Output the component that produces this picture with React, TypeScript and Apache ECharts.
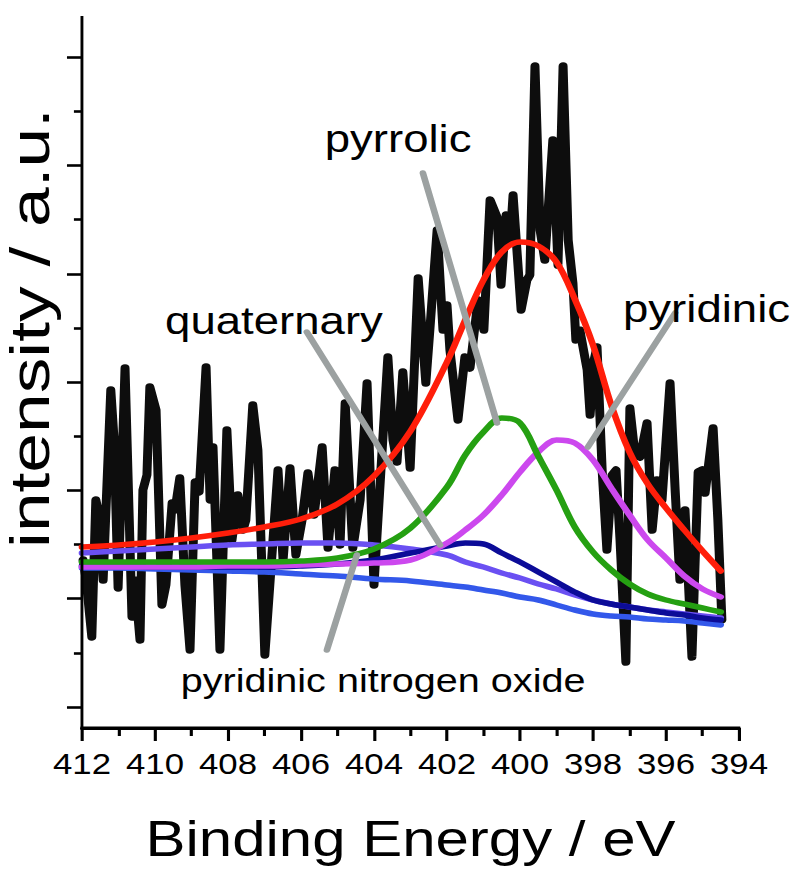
import React, { useEffect, useRef } from "react";
import * as echarts from "echarts";

// ---- data ----
const X_MIN = 394;
const X_MAX = 412;
const X_STEP = 2;

// measured spectrum (binding energy in eV, intensity in a.u.)
const blackEnergy = [
  411.97, 411.89, 411.73, 411.62, 411.53, 411.42, 411.21, 411.12, 411.01, 410.82,
  410.63, 410.55, 410.41, 410.33, 410.22, 410.14, 409.97, 409.81, 409.7, 409.53,
  409.45, 409.32, 409.18, 409.04, 408.9, 408.79, 408.6, 408.49, 408.41, 408.22,
  408.03, 407.89, 407.73, 407.59, 407.51, 407.32, 407.18, 406.99, 406.63, 406.49,
  406.3, 406.14, 405.97, 405.81, 405.64, 405.42, 405.26, 405.07, 404.93, 404.79,
  404.58, 404.38, 404.19, 404.0, 403.81, 403.62, 403.48, 403.37, 403.21, 403.01,
  402.79, 402.58, 402.47, 402.27, 402.11, 402.0, 401.92, 401.7, 401.51, 401.37,
  401.15, 400.99, 400.82, 400.63, 400.52, 400.38, 400.27, 400.19, 399.97, 399.81,
  399.73, 399.59, 399.45, 399.32, 399.1, 398.96, 398.82, 398.68, 398.55, 398.47,
  398.36, 398.16, 398.08, 397.97, 397.89, 397.75, 397.62, 397.48, 397.37, 397.26,
  397.1, 396.99, 396.85, 396.71, 396.52, 396.38, 396.25, 396.11, 395.89, 395.75,
  395.62, 395.48, 395.29, 395.12, 395.01, 394.93, 394.71, 394.58, 394.47,
];
const blackIntensity = [
  147, 129, 70, 207, 192, 127, 317, 267, 119, 339,
  90, 127, 67, 217, 232, 320, 297, 102, 122, 204,
  197, 229, 122, 57, 225, 215, 340, 207, 260, 57,
  277, 167, 212, 177, 187, 302, 257, 52, 237, 147,
  239, 152, 187, 234, 192, 260, 159, 237, 162, 304,
  159, 207, 324, 122, 237, 350, 267, 245, 335, 239,
  429, 324, 377, 477, 377, 402, 357, 287, 350, 339,
  407, 377, 507, 490, 422, 492, 467, 512, 397, 427,
  432, 641, 477, 447, 567, 442, 641, 467, 424, 367,
  377, 337, 292, 347, 360, 237, 157, 232, 237, 167,
  45, 299, 252, 250, 284, 177, 227, 207, 324, 217,
  127, 197, 50, 235, 237, 214, 279, 187, 87,
];

// fitted components
const fitEnergy = [
  412, 411, 410, 409, 408, 407, 406, 405, 404, 403, 402, 401.5, 401,
  400.5, 400, 399.5, 399, 398.5, 398, 397.5, 397, 396.5, 396, 395.5, 395, 394.5,
];
const envelope = [160, 162, 165, 169, 174, 180, 188, 203, 231, 276, 345, 387, 427, 455, 465, 461, 445, 408, 362, 302, 255, 223, 199, 177, 156, 136];
const pyrrolic = [145, 145, 145, 145, 145, 145, 146, 149, 158, 179, 220, 252, 275, 289, 284, 251, 217, 180, 155, 137, 123, 113, 107, 103, 99, 95];
const pyridinic = [140, 140, 140, 140, 141, 141, 142, 143, 144, 147, 164, 177, 192, 212, 235, 255, 267, 264, 247, 219, 192, 167, 149, 131, 118, 110];
const quaternary = [141, 141, 140, 140, 140, 140, 141, 143, 147, 154, 161, 164, 163, 154, 145, 135, 125, 115, 107, 103, 100, 97, 94, 92, 89, 87];
const nOxide = [154, 156, 158, 160, 162, 163, 164, 164, 162, 158, 152, 145, 140, 134, 129, 123, 118, 112, 107, 103, 100, 97, 95, 93, 91, 89];
const background = [139, 139, 138, 137, 136, 135, 133, 131, 128, 126, 122, 120, 117, 114, 110, 107, 102, 97, 93, 91, 90, 88, 87, 86, 84, 82];

// annotations
const labelNames = ["pyrrolic", "pyridinic", "quaternary", "pyridinic nitrogen oxide"];
const labelEnergy = [403.34, 394.89, 406.74, 403.75];
const labelIntensity = [568, 398, 386, 26];
const labelSizes = [38, 38, 38, 33];
const leaderPyrrolic = [[402.66, 534], [400.63, 284]];
const leaderPyridinic = [[395.75, 394], [398.14, 260]];
const leaderQuaternary = [[405.84, 375], [402.19, 162]];
const leaderOxide = [[405.29, 57], [404.47, 152]];

const X_TITLE = "Binding Energy / eV";
const Y_TITLE = "intensity / a.u.";

// ---- layout ----
const W = 662;
const H = 875;
const SX = 794 / 662;
const GRID_LEFT = 68.33;
const GRID_RIGHT = 45.83;
const GRID_TOP = 57.2;
const GRID_BOTTOM = 168;
const X_AXIS_Y = 728;
const FONT = "'Liberation Sans', Arial, Helvetica, sans-serif";

const pairs = (xs: number[], ys: number[]) => xs.map((x, i) => [x, ys[i]]);

export default function App() {
  const ref = useRef<HTMLDivElement>(null);
  useEffect(() => {
    const chart = echarts.init(ref.current!, null, { renderer: "svg" });
    const fit = (name: string, ys: number[], color: string) => ({
      type: "line",
      name,
      data: pairs(fitEnergy, ys),
      showSymbol: false,
      symbol: "none",
      smooth: 0.35,
      silent: true,
      z: 3,
      lineStyle: { color, width: 5.5, cap: "round" },
    });
    const leader = (d: number[][]) => ({
      type: "line",
      data: d,
      showSymbol: false,
      symbol: "none",
      silent: true,
      z: 5,
      lineStyle: { color: "#9ca1a1", width: 5.5, cap: "round" },
    });
    chart.setOption({
      animation: false,
      backgroundColor: "#ffffff",
      grid: { left: GRID_LEFT, right: GRID_RIGHT, top: GRID_TOP, bottom: GRID_BOTTOM, containLabel: false },
      xAxis: {
        type: "value",
        min: X_MIN,
        max: X_MAX,
        interval: X_STEP,
        inverse: true,
        offset: 21,
        name: X_TITLE,
        nameLocation: "middle",
        nameGap: 86,
        nameTextStyle: { fontFamily: FONT, fontSize: 50, color: "#000" },
        axisLine: { show: true, onZero: false, lineStyle: { color: "#000", width: 2.8 } },
        axisTick: { show: true, inside: false, length: 13, lineStyle: { color: "#000", width: 2.6 } },
        minorTick: { show: true, splitNumber: 2, length: 8, lineStyle: { color: "#000", width: 2.6 } },
        axisLabel: { show: true, margin: 22, fontFamily: FONT, fontSize: 29, color: "#000" },
        splitLine: { show: false },
        minorSplitLine: { show: false },
      },
      yAxis: {
        type: "value",
        min: 0,
        max: 649.8,
        interval: 108.3,
        axisLine: { show: false },
        axisTick: { show: true, inside: false, length: 12.5, lineStyle: { color: "#000", width: 2.6 } },
        minorTick: { show: true, splitNumber: 2, length: 6.7, lineStyle: { color: "#000", width: 2.6 } },
        axisLabel: { show: false },
        splitLine: { show: false },
        minorSplitLine: { show: false },
      },
      graphic: [
        {
          type: "line",
          z: 10,
          shape: { x1: GRID_LEFT, y1: 16, x2: GRID_LEFT, y2: X_AXIS_Y + 1.4 },
          style: { stroke: "#000", lineWidth: 2.4 },
        },
        {
          type: "line",
          z: 10,
          shape: { x1: GRID_LEFT - 1.2, y1: X_AXIS_Y, x2: W - GRID_RIGHT + 1, y2: X_AXIS_Y },
          style: { stroke: "#000", lineWidth: 2.8 },
        },
        {
          type: "text",
          z: 10,
          x: 25,
          y: 328,
          rotation: Math.PI / 2,
          scaleX: 1.55,
          style: {
            text: Y_TITLE,
            fontFamily: FONT,
            fontSize: 46,
            fill: "#000",
            align: "center",
            verticalAlign: "middle",
          },
        },
      ],
      series: [
        {
          type: "line",
          name: "measured",
          data: pairs(blackEnergy, blackIntensity),
          showSymbol: false,
          symbol: "none",
          silent: true,
          z: 2,
          lineStyle: { color: "#0d0d0d", width: 7.5, join: "round", cap: "round" },
        },
        fit("background", background, "#3358ea"),
        fit("pyridinic nitrogen oxide", nOxide, "#6a50f2"),
        fit("quaternary", quaternary, "#0c0c98"),
        fit("pyridinic", pyridinic, "#cc48ee"),
        fit("pyrrolic", pyrrolic, "#25a012"),
        fit("envelope", envelope, "#ff1e0a"),
        leader(leaderPyrrolic),
        leader(leaderPyridinic),
        leader(leaderQuaternary),
        leader(leaderOxide),
        {
          type: "scatter",
          silent: true,
          z: 8,
          symbolSize: 1,
          itemStyle: { color: "rgba(0,0,0,0)" },
          label: {
            show: true,
            position: "inside",
            formatter: "{b}",
            color: "#000",
            opacity: 1,
            textBorderWidth: 0,
            fontFamily: FONT,
            fontSize: 38,
          },
          data: labelNames.map((n, i) => ({
            name: n,
            value: [labelEnergy[i], labelIntensity[i]],
            label: { fontSize: labelSizes[i] },
          })),
        },
      ],
    });
    return () => chart.dispose();
  }, []);
  return (
    <div
      ref={ref}
      style={{
        position: "absolute",
        left: 0,
        top: 0,
        width: W,
        height: H,
        transform: `scaleX(${SX})`,
        transformOrigin: "0 0",
      }}
    />
  );
}
